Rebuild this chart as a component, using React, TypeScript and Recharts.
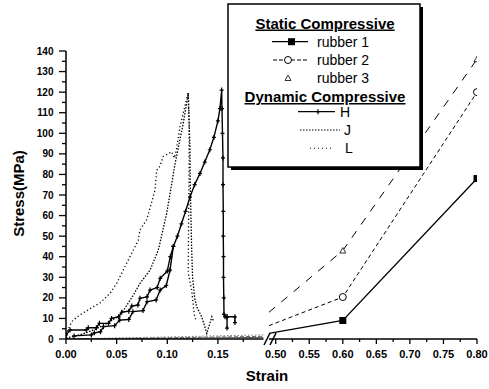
import React from 'react';
import { LineChart, Line, XAxis, YAxis } from 'recharts';

// ---- dynamic compressive curves (left panel, strain 0 – 0.195) ----
const hStrain = [0, 0.004, 0.02, 0.022, 0.03, 0.033, 0.042, 0.045, 0.052, 0.055, 0.062, 0.065, 0.071, 0.073, 0.08, 0.083, 0.09, 0.093, 0.1, 0.103, 0.106, 0.11, 0.114, 0.118, 0.1224, 0.127, 0.1323, 0.137, 0.142, 0.146, 0.15, 0.152, 0.1537, 0.154, 0.1545, 0.155, 0.155, 0.1553, 0.1553, 0.1555, 0.1555, 0.1558, 0.156, 0.157, 0.159, 0.159, 0.159, 0.1668, 0.1668];
const hStress = [2, 4.4, 4.4, 5.5, 5.5, 7.6, 7.6, 10, 10.8, 13, 13.5, 16, 16.5, 19.8, 20.5, 23.8, 25, 29.5, 33, 40, 45, 50, 56, 62, 69, 75, 80.5, 86, 92, 98, 106, 112, 121, 112, 100, 88, 75, 62, 50, 40, 30, 20, 12, 10.8, 10.8, 5.3, 10.8, 10.8, 8];

// second H run (lower staircase joining the main curve)
const h2Strain = [0.008, 0.025, 0.028, 0.034, 0.037, 0.048, 0.053, 0.062, 0.066, 0.076, 0.08, 0.089, 0.093, 0.099, 0.1027, 0.106];
const h2Stress = [1.5, 2, 3, 3.5, 6, 6.5, 9.2, 9.5, 13.3, 13.8, 18.1, 19, 23.8, 26, 33.5, 45];

const jStrain = [0, 0.01, 0.02, 0.03, 0.04, 0.05, 0.057, 0.066, 0.073, 0.083, 0.091, 0.0994, 0.1076, 0.1158, 0.1207, 0.1224, 0.1226, 0.124, 0.125, 0.127, 0.129, 0.134, 0.137, 0.139, 0.141, 0.144, 0.1454];
const jStress = [0.5, 1.5, 3, 5, 7.5, 10.5, 14, 21, 27, 33.5, 43, 61, 85, 105, 119, 93, 77, 45, 30, 20, 15.7, 10.8, 6, 2.7, 6, 10.8, 9];

const lStrain = [0, 0.004, 0.007, 0.0138, 0.027, 0.0336, 0.0434, 0.05, 0.058, 0.0714, 0.073, 0.0797, 0.086, 0.0879, 0.0895, 0.0928, 0.0958, 0.1043, 0.107, 0.109, 0.1125, 0.1207, 0.1215, 0.1215, 0.121, 0.1207, 0.124, 0.126, 0.127, 0.1285];
const lStress = [2, 6.8, 9.2, 11.7, 15.7, 17.5, 22.2, 27, 35, 48, 53, 58, 69, 72.4, 82, 84, 88.6, 91, 88, 92, 103, 120, 105, 80, 55, 32, 24, 15, 10.8, 9];

// ---- static compressive (both panels) ----
const staticLowStrain = [0, 0.1, 0.195];
const rubber1Low = [0, 0.3, 0.8];
const rubber2Low = [0, 0.6, 1.3];
const rubber3Low = [0, 1, 2];

const staticHighStrain = [0.49, 0.6, 0.8];
const rubber1High = [2.7, 9, 78];
const rubber2High = [6.5, 20.4, 120];
const rubber3High = [13, 43, 136];

// ---- ticks ----
const yTicks = [0, 5, 10, 15, 20, 25, 30, 35, 40, 45, 50, 55, 60, 65, 70, 75, 80, 85, 90, 95, 100, 105, 110, 115, 120, 125, 130, 135, 140];
const xTicksLeft = [0, 0.025, 0.05, 0.075, 0.1, 0.125, 0.15, 0.175];
const xTicksRight = [0.5, 0.525, 0.55, 0.575, 0.6, 0.625, 0.65, 0.675, 0.7, 0.725, 0.75, 0.775, 0.8];

type Pt = { x: number; y: number };
const pts = (xs: number[], ys: number[]): Pt[] => xs.map((x, i) => ({ x, y: ys[i] }));

const FONT = '"Liberation Sans", Arial, sans-serif';

const YTick = (props: any) => {
  const { x, y, payload } = props;
  const v = payload.value as number;
  const major = v % 10 === 0;
  return (
    <g>
      <line x1={x - (major ? 7 : 4)} x2={x} y1={y} y2={y} stroke="#000" strokeWidth={1.3} />
      {major && (
        <text x={x - 12.5} y={y + 3.6} textAnchor="end" fontSize={10} fontWeight="bold" fontFamily={FONT} fill="#000">
          {v}
        </text>
      )}
    </g>
  );
};

const XTick = (props: any) => {
  const { x, y, payload } = props;
  const v = payload.value as number;
  const major = Math.round(v * 1000) % 50 === 0;
  return (
    <g>
      <line x1={x} x2={x} y1={y} y2={y + (major ? 5 : 3)} stroke="#000" strokeWidth={1.3} />
      {major && (
        <text x={x} y={y + 19} textAnchor="middle" fontSize={11} fontWeight="bold" fontFamily={FONT} fill="#000">
          {v.toFixed(2)}
        </text>
      )}
    </g>
  );
};

const plusDot = (p: any) => (
  <path
    key={`h${p.index}`}
    d={`M${p.cx},${p.cy - 2.5}V${p.cy + 2.5}M${p.cx - 2},${p.cy}H${p.cx + 2}`}
    stroke="#000"
    strokeWidth={1.2}
  />
);

const squareDot = (p: any) =>
  p.payload.x < 0.6 ? <g key={`s${p.index}`} /> : (
    <rect key={`s${p.index}`} x={p.cx - 3.5} y={p.cy - 3.5} width={7} height={7} fill="#000" />
  );

const circleDot = (p: any) =>
  p.payload.x < 0.6 ? <g key={`c${p.index}`} /> : (
    <circle key={`c${p.index}`} cx={p.cx} cy={p.cy} r={3.5} fill="#fff" stroke="#000" strokeWidth={1} />
  );

const triDot = (p: any) =>
  p.payload.x < 0.6 ? <g key={`t${p.index}`} /> : (
    <path key={`t${p.index}`} d={`M${p.cx},${p.cy - 3}L${p.cx + 3},${p.cy + 2.5}L${p.cx - 3},${p.cy + 2.5}Z`} fill="#fff" stroke="#000" strokeWidth={0.8} />
  );

const axisLine = { stroke: '#000', strokeWidth: 1.5 };

const Legend = () => (
  <g fontFamily={FONT} fill="#000">
    <rect x={231} y={7} width={192} height={163} fill="#000" />
    <rect x={228} y={4} width={192} height={163} fill="#fff" stroke="#000" strokeWidth={1.5} />
    <text x={325} y={28.5} textAnchor="middle" fontSize={15} fontWeight="bold" textDecoration="underline">Static Compressive</text>

    <line x1={272} x2={308} y1={41.7} y2={41.7} stroke="#000" strokeWidth={1.3} />
    <rect x={288} y={38.2} width={7} height={7} fill="#000" />
    <text x={317} y={46.7} fontSize={14}>rubber 1</text>

    <line x1={273} x2={308} y1={60} y2={60} stroke="#000" strokeWidth={1} strokeDasharray="4 2" />
    <circle cx={288} cy={60} r={3.5} fill="#fff" stroke="#000" />
    <text x={317} y={65} fontSize={14}>rubber 2</text>

    <path d="M288,75 L291,80.5 L285,80.5 Z" fill="#fff" stroke="#000" strokeWidth={0.8} />
    <text x={317} y={83.3} fontSize={14}>rubber 3</text>

    <text x={325} y={102} textAnchor="middle" fontSize={15} fontWeight="bold" textDecoration="underline">Dynamic Compressive</text>

    <line x1={298} x2={335} y1={111.7} y2={111.7} stroke="#000" strokeWidth={1.2} />
    <path d="M318,109.2V114.2M316,111.7H320" stroke="#000" strokeWidth={1.2} />
    <text x={340} y={116.7} fontSize={14}>H</text>

    <line x1={300} x2={340} y1={130} y2={130} stroke="#000" strokeWidth={1.1} strokeDasharray="1.5 1.5" />
    <text x={344} y={135} fontSize={14}>J</text>

    <line x1={310} x2={334} y1={148.3} y2={148.3} stroke="#000" strokeWidth={1.1} strokeDasharray="1 3" />
    <text x={345} y={153.3} fontSize={14}>L</text>
  </g>
);

export default function App() {
  return (
    <div style={{ position: 'absolute', left: 0, top: 0, width: 489, height: 389, background: '#fff', overflow: 'hidden' }}>
      <div style={{ position: 'absolute', left: 0, top: 0 }}>
        <LineChart width={265} height={389} margin={{ top: 51, right: 1.5, bottom: 20, left: 0 }}>
          <XAxis type="number" dataKey="x" domain={[0, 0.195]} ticks={xTicksLeft} interval={0} allowDataOverflow
            tick={<XTick />} tickLine={false} tickSize={0} tickMargin={0} height={30} axisLine={axisLine} />
          <YAxis type="number" domain={[0, 140]} ticks={yTicks} interval={0} allowDataOverflow
            tick={<YTick />} tickLine={false} tickSize={0} tickMargin={0} width={66} axisLine={axisLine} />
          <Line data={pts(staticLowStrain, rubber1Low)} dataKey="y" stroke="#555" strokeWidth={1} dot={false} isAnimationActive={false} />
          <Line data={pts(staticLowStrain, rubber2Low)} dataKey="y" stroke="#666" strokeWidth={1} strokeDasharray="4 2" dot={false} isAnimationActive={false} />
          <Line data={pts(staticLowStrain, rubber3Low)} dataKey="y" stroke="#777" strokeWidth={1} strokeDasharray="1.5 2" dot={false} isAnimationActive={false} />
          <Line data={pts(lStrain, lStress)} dataKey="y" stroke="#000" strokeWidth={1.3} strokeDasharray="1.2 2.5" dot={false} isAnimationActive={false} />
          <Line data={pts(jStrain, jStress)} dataKey="y" stroke="#000" strokeWidth={1.3} strokeDasharray="1.5 1.5" dot={false} isAnimationActive={false} />
          <Line data={pts(h2Strain, h2Stress)} dataKey="y" stroke="#000" strokeWidth={1.4} dot={plusDot} isAnimationActive={false} />
          <Line data={pts(hStrain, hStress)} dataKey="y" stroke="#000" strokeWidth={1.4} dot={plusDot} isAnimationActive={false} />
        </LineChart>
      </div>
      <div style={{ position: 'absolute', left: 262, top: 0 }}>
        <LineChart width={227} height={389} margin={{ top: 51, right: 12, bottom: 20, left: 7 }}>
          <XAxis type="number" dataKey="x" domain={[0.49, 0.8]} ticks={xTicksRight} interval={0} allowDataOverflow
            tick={<XTick />} tickLine={false} tickSize={0} tickMargin={0} height={30} axisLine={axisLine} />
          <YAxis type="number" domain={[0, 140]} hide />
          <Line data={pts(staticHighStrain, rubber3High)} dataKey="y" stroke="#000" strokeWidth={1} strokeDasharray="8 8" dot={triDot} isAnimationActive={false} />
          <Line data={pts(staticHighStrain, rubber2High)} dataKey="y" stroke="#000" strokeWidth={1} strokeDasharray="4 3" dot={circleDot} isAnimationActive={false} />
          <Line data={pts(staticHighStrain, rubber1High)} dataKey="y" stroke="#000" strokeWidth={1.3} dot={squareDot} isAnimationActive={false} />
        </LineChart>
      </div>
      <svg width={489} height={389} style={{ position: 'absolute', left: 0, top: 0 }}>
        {/* axis break */}
        <line x1={264} y1={345} x2={270} y2={333} stroke="#000" strokeWidth={1.5} />
        <line x1={270} y1={345} x2={276} y2={333} stroke="#000" strokeWidth={1.5} />
        <text x={19} y={193.5} transform="rotate(-90 19 193.5)" dy={5} textAnchor="middle" fontSize={15} fontWeight="bold" fontFamily={FONT}>
          Stress(MPa)
        </text>
        <text x={267} y={381} textAnchor="middle" fontSize={15} fontWeight="bold" fontFamily={FONT}>
          Strain
        </text>
        <Legend />
      </svg>
    </div>
  );
}
